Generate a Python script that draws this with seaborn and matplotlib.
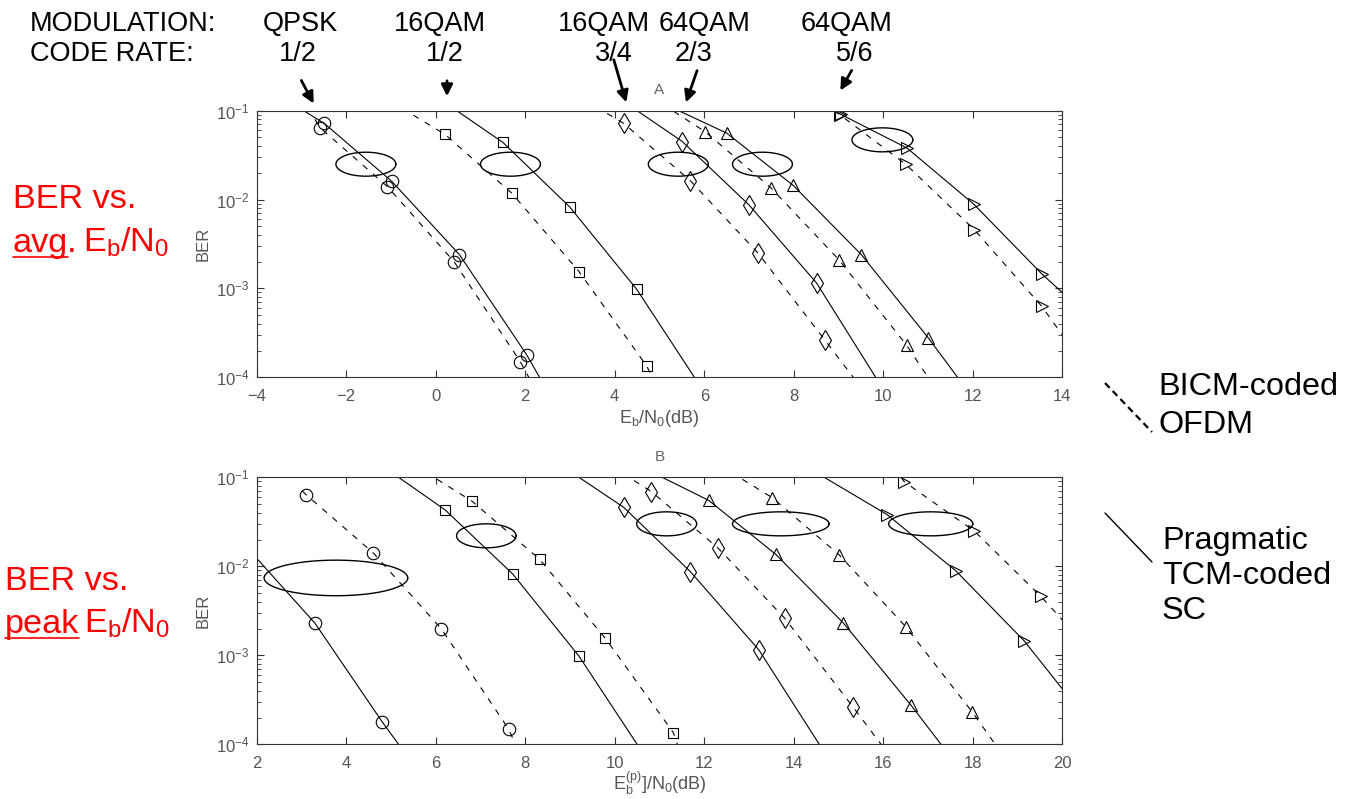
import matplotlib
matplotlib.use('Agg')
import numpy as np
import seaborn as sns
import matplotlib.pyplot as plt
from matplotlib.lines import Line2D

# ---- panel A: BER vs average Eb/N0 ----
# first and last point of each curve are where the line meets the frame (no marker)
a_qpsk12_sc_x = [-2.95, -2.49, -0.98, 0.53, 2.03, 2.32]
a_qpsk12_sc_ber = [0.1, 0.072, 0.016, 0.0024, 1.8e-4, 1e-4]
a_qpsk12_ofdm_x = [-2.7, -2.58, -1.08, 0.41, 1.89, 2.08]
a_qpsk12_ofdm_ber = [0.08, 0.064, 0.014, 0.002, 1.5e-4, 1e-4]
a_16qam12_sc_x = [0.47, 1.50, 2.99, 4.49, 5.78]
a_16qam12_sc_ber = [0.1, 0.044, 0.0083, 9.8e-4, 1e-4]
a_16qam12_ofdm_x = [-0.5, 0.21, 1.70, 3.20, 4.71, 4.84]
a_16qam12_ofdm_ber = [0.089, 0.054, 0.0118, 0.00155, 1.35e-4, 1e-4]
a_16qam34_sc_x = [4.50, 5.51, 7.00, 8.51, 9.83]
a_16qam34_sc_ber = [0.1, 0.045, 0.0087, 0.00115, 1e-4]
a_16qam34_ofdm_x = [3.83, 4.20, 5.69, 7.20, 8.70, 9.33]
a_16qam34_ofdm_ber = [0.093, 0.072, 0.0163, 0.0025, 2.6e-4, 1e-4]
a_64qam23_sc_x = [5.43, 6.50, 7.99, 9.51, 11.00, 11.66]
a_64qam23_sc_ber = [0.1, 0.056, 0.0144, 0.0024, 2.8e-4, 1e-4]
a_64qam23_ofdm_x = [5.32, 6.02, 7.50, 9.01, 10.52, 11.0]
a_64qam23_ofdm_ber = [0.098, 0.058, 0.0134, 0.0021, 2.3e-4, 1e-4]
a_64qam56_sc_x = [8.9, 9.05, 10.53, 12.02, 13.54, 14.0]
a_64qam56_sc_ber = [0.1, 0.091, 0.038, 0.0089, 0.00146, 9e-4]
a_64qam56_ofdm_x = [8.9, 9.03, 10.50, 12.03, 13.54, 14.0]
a_64qam56_ofdm_ber = [0.1, 0.09, 0.025, 0.0046, 6.3e-4, 3e-4]

# ---- panel B: BER vs peak Eb/N0 ----
b_qpsk12_sc_x = [2.0, 3.30, 4.80, 5.17]
b_qpsk12_sc_ber = [0.0123, 0.0023, 1.8e-4, 1e-4]
b_qpsk12_ofdm_x = [3.02, 3.10, 4.60, 6.12, 7.63, 7.78]
b_qpsk12_ofdm_ber = [0.07, 0.064, 0.0142, 0.0020, 1.48e-4, 1e-4]
b_16qam12_sc_x = [5.17, 6.21, 7.72, 9.20, 10.5]
b_16qam12_sc_ber = [0.1, 0.043, 0.0082, 9.8e-4, 1e-4]
b_16qam12_ofdm_x = [6.03, 6.81, 8.32, 9.79, 11.31, 11.4]
b_16qam12_ofdm_ber = [0.095, 0.054, 0.012, 0.00155, 1.35e-4, 1e-4]
b_16qam34_sc_x = [9.20, 10.20, 11.69, 13.22, 14.57]
b_16qam34_sc_ber = [0.1, 0.046, 0.0087, 0.00115, 1e-4]
b_16qam34_ofdm_x = [10.43, 10.82, 12.31, 13.80, 15.33, 15.95]
b_16qam34_ofdm_ber = [0.092, 0.069, 0.016, 0.0026, 2.6e-4, 1e-4]
b_64qam23_sc_x = [11.06, 12.10, 13.60, 15.11, 16.62, 17.29]
b_64qam23_sc_ber = [0.1, 0.055, 0.0136, 0.0023, 2.75e-4, 1e-4]
b_64qam23_ofdm_x = [12.85, 13.52, 15.01, 16.50, 17.99, 18.5]
b_64qam23_ofdm_ber = [0.095, 0.059, 0.0135, 0.0021, 2.3e-4, 1e-4]
b_64qam56_sc_x = [14.68, 16.09, 17.62, 19.15, 20.0]
b_64qam56_sc_ber = [0.1, 0.038, 0.0089, 0.00145, 4.2e-4]
b_64qam56_ofdm_x = [16.4, 16.47, 18.03, 19.52, 20.0]
b_64qam56_ofdm_ber = [0.1, 0.089, 0.025, 0.0046, 0.0025]

# ellipses grouping the curve pairs (centre dB, centre BER, width dB, height decades)
a_ell_x = [-1.56, 1.67, 5.42, 7.30, 9.98]
a_ell_ber = [0.025, 0.025, 0.025, 0.025, 0.047]
a_ell_w = [1.34, 1.34, 1.34, 1.34, 1.36]
a_ell_h = [0.27, 0.27, 0.27, 0.27, 0.27]
b_ell_x = [3.77, 7.13, 11.16, 13.71, 17.06]
b_ell_ber = [0.0074, 0.022, 0.030, 0.030, 0.030]
b_ell_w = [3.21, 1.33, 1.34, 2.16, 1.88]
b_ell_h = [0.40, 0.27, 0.27, 0.27, 0.27]

modulations = ['QPSK', '16QAM', '16QAM', '64QAM', '64QAM']
code_rates = ['1/2', '1/2', '3/4', '2/3', '5/6']
markers = ['o', 's', 'd', '^', '>']

sns.set_theme(style='white')
plt.rcParams['font.family'] = ['Liberation Sans', 'DejaVu Sans']
plt.rcParams['text.color'] = 'black'
plt.rcParams['mathtext.fontset'] = 'custom'
plt.rcParams['mathtext.rm'] = 'Liberation Sans'
plt.rcParams['mathtext.it'] = 'Liberation Sans:italic'
plt.rcParams['mathtext.bf'] = 'Liberation Sans:bold'

W, H = 1355, 799
fig = plt.figure(figsize=(W / 100, H / 100), dpi=100)
ax_a = fig.add_axes([256.7 / W, 1 - 377.3 / H, 805.6 / W, 266.6 / H])
ax_b = fig.add_axes([256.7 / W, 1 - 744.3 / H, 805.6 / W, 267.0 / H])

DASH = (0, (5.5, 6.5))
ms_map = {'o': 9, 's': 7.5, 'd': 10, '^': 9, '>': 9}


def draw_curve(ax, xs, bers, marker, ls):
    sns.lineplot(x=xs, y=bers, ax=ax, color='black', lw=0.8, linestyle=ls,
                 sort=False, estimator=None, marker=marker,
                 markersize=ms_map[marker],
                 markevery=list(range(1, len(xs) - 1)),
                 markerfacecolor='none', markeredgecolor='black',
                 markeredgewidth=0.8)


curves_a = [
    (a_qpsk12_sc_x, a_qpsk12_sc_ber, a_qpsk12_ofdm_x, a_qpsk12_ofdm_ber),
    (a_16qam12_sc_x, a_16qam12_sc_ber, a_16qam12_ofdm_x, a_16qam12_ofdm_ber),
    (a_16qam34_sc_x, a_16qam34_sc_ber, a_16qam34_ofdm_x, a_16qam34_ofdm_ber),
    (a_64qam23_sc_x, a_64qam23_sc_ber, a_64qam23_ofdm_x, a_64qam23_ofdm_ber),
    (a_64qam56_sc_x, a_64qam56_sc_ber, a_64qam56_ofdm_x, a_64qam56_ofdm_ber),
]
curves_b = [
    (b_qpsk12_sc_x, b_qpsk12_sc_ber, b_qpsk12_ofdm_x, b_qpsk12_ofdm_ber),
    (b_16qam12_sc_x, b_16qam12_sc_ber, b_16qam12_ofdm_x, b_16qam12_ofdm_ber),
    (b_16qam34_sc_x, b_16qam34_sc_ber, b_16qam34_ofdm_x, b_16qam34_ofdm_ber),
    (b_64qam23_sc_x, b_64qam23_sc_ber, b_64qam23_ofdm_x, b_64qam23_ofdm_ber),
    (b_64qam56_sc_x, b_64qam56_sc_ber, b_64qam56_ofdm_x, b_64qam56_ofdm_ber),
]

t = np.linspace(0, 2 * np.pi, 200)
panels = [
    (ax_a, curves_a, (a_ell_x, a_ell_ber, a_ell_w, a_ell_h), (-4, 14), 'A',
     r'$\mathrm{E_b/N_0(dB)}$', 3),
    (ax_b, curves_b, (b_ell_x, b_ell_ber, b_ell_w, b_ell_h), (2, 20), 'B',
     r'$\mathrm{E_b^{(p)}]/N_0(dB)}$', -1),
]
for ax, curves, ells, xlim, title, xlabel, lpad in panels:
    for (sx, sb, ox, ob), m in zip(curves, markers):
        draw_curve(ax, sx, sb, m, '-')
        draw_curve(ax, ox, ob, m, DASH)
    for cx, cb, w, h in zip(*ells):
        ax.plot(cx + w / 2 * np.cos(t), 10 ** (np.log10(cb) + h / 2 * np.sin(t)),
                color='black', lw=1.0)
    ax.set_yscale('log')
    ax.set_ylim(1e-4, 1e-1)
    ax.set_xlim(*xlim)
    ax.set_xticks(np.arange(xlim[0], xlim[1] + 1, 2))
    ax.tick_params(which='both', direction='in', top=True, right=True,
                   bottom=True, left=True, color='#333', labelcolor='#555',
                   labelsize=12)
    ax.tick_params(which='major', length=5, width=0.8)
    ax.tick_params(which='minor', length=3, width=0.6)
    ax.tick_params(axis='x', pad=8.5)
    ax.tick_params(axis='y', pad=5)
    for s in ax.spines.values():
        s.set_color('#333')
        s.set_linewidth(0.8)
    ax.set_title(title, fontsize=11, color='#666', pad=12)
    ax.set_xlabel(xlabel, fontsize=13, color='#555', labelpad=lpad)
    ax.set_ylabel('BER', fontsize=12, color='#555', labelpad=4)


def fx(x):
    return x / W


def fy(y):
    return 1 - y / H


# header: modulation / code rate with arrows onto the curves
HEAD = 19.5
fig.text(fx(30), fy(31), 'MODULATION:', fontsize=HEAD, va='baseline', ha='left')
fig.text(fx(30), fy(61), 'CODE RATE:', fontsize=HEAD, va='baseline', ha='left')
mod_cx = [300, 440, 604, 705, 847]
rate_cx = [298, 445, 614, 694, 855]
for mod, rate, mx, rx in zip(modulations, code_rates, mod_cx, rate_cx):
    fig.text(fx(mx), fy(31), mod, fontsize=HEAD, va='baseline', ha='center')
    fig.text(fx(rx), fy(61), rate, fontsize=HEAD, va='baseline', ha='center')
arrows = [((300, 78), (315, 106)), ((447, 78), (447, 99)), ((613, 57), (627, 105)),
          ((698, 68), (685, 105)), ((853, 68), (839, 93))]
for (x0, y0), (x1, y1) in arrows:
    fig.add_artist(matplotlib.patches.FancyArrowPatch(
        (fx(x0), fy(y0)), (fx(x1), fy(y1)), transform=fig.transFigure,
        arrowstyle='-|>', mutation_scale=17, lw=2, color='black'))

# red side labels with underlined word
RED = 24.7
renderer = fig.canvas.get_renderer()
side = [(13, 208, 252, 'avg'), (5, 590, 633, 'peak')]
for x0, y1, y2, word in side:
    fig.text(fx(x0), fy(y1), 'BER vs.', fontsize=RED, color='red', va='baseline')
    tw = fig.text(fx(x0), fy(y2), word + ('.' if word == 'avg' else ''),
                  fontsize=RED, color='red', va='baseline')
    probe = fig.text(fx(x0), fy(y2), word, fontsize=RED, color='red', va='baseline')
    bb_w = probe.get_window_extent(renderer)
    probe.remove()
    bb = tw.get_window_extent(renderer)
    fig.add_artist(Line2D([bb_w.x0 / W, bb_w.x1 / W], [fy(y2 + 5), fy(y2 + 5)],
                          transform=fig.transFigure, color='red', lw=1.2))
    fig.text(bb.x1 / W + 5 / W, fy(y2), r'$\mathrm{E_b/N_0}$', fontsize=RED,
             color='red', va='baseline')

# right legend
fig.add_artist(Line2D([fx(1105), fx(1152)], [fy(383), fy(432)], transform=fig.transFigure,
                      color='black', lw=1.6, linestyle=(0, (3, 2))))
fig.add_artist(Line2D([fx(1105), fx(1152)], [fy(513), fy(562)], transform=fig.transFigure,
                      color='black', lw=1.0))
for txt, x, y in [('BICM-coded', 1158, 395), ('OFDM', 1158, 433),
                  ('Pragmatic', 1162, 549), ('TCM-coded', 1162, 584), ('SC', 1162, 619)]:
    fig.text(fx(x), fy(y), txt, fontsize=23.3, va='baseline', ha='left')

fig.savefig('out.png', dpi=100)
